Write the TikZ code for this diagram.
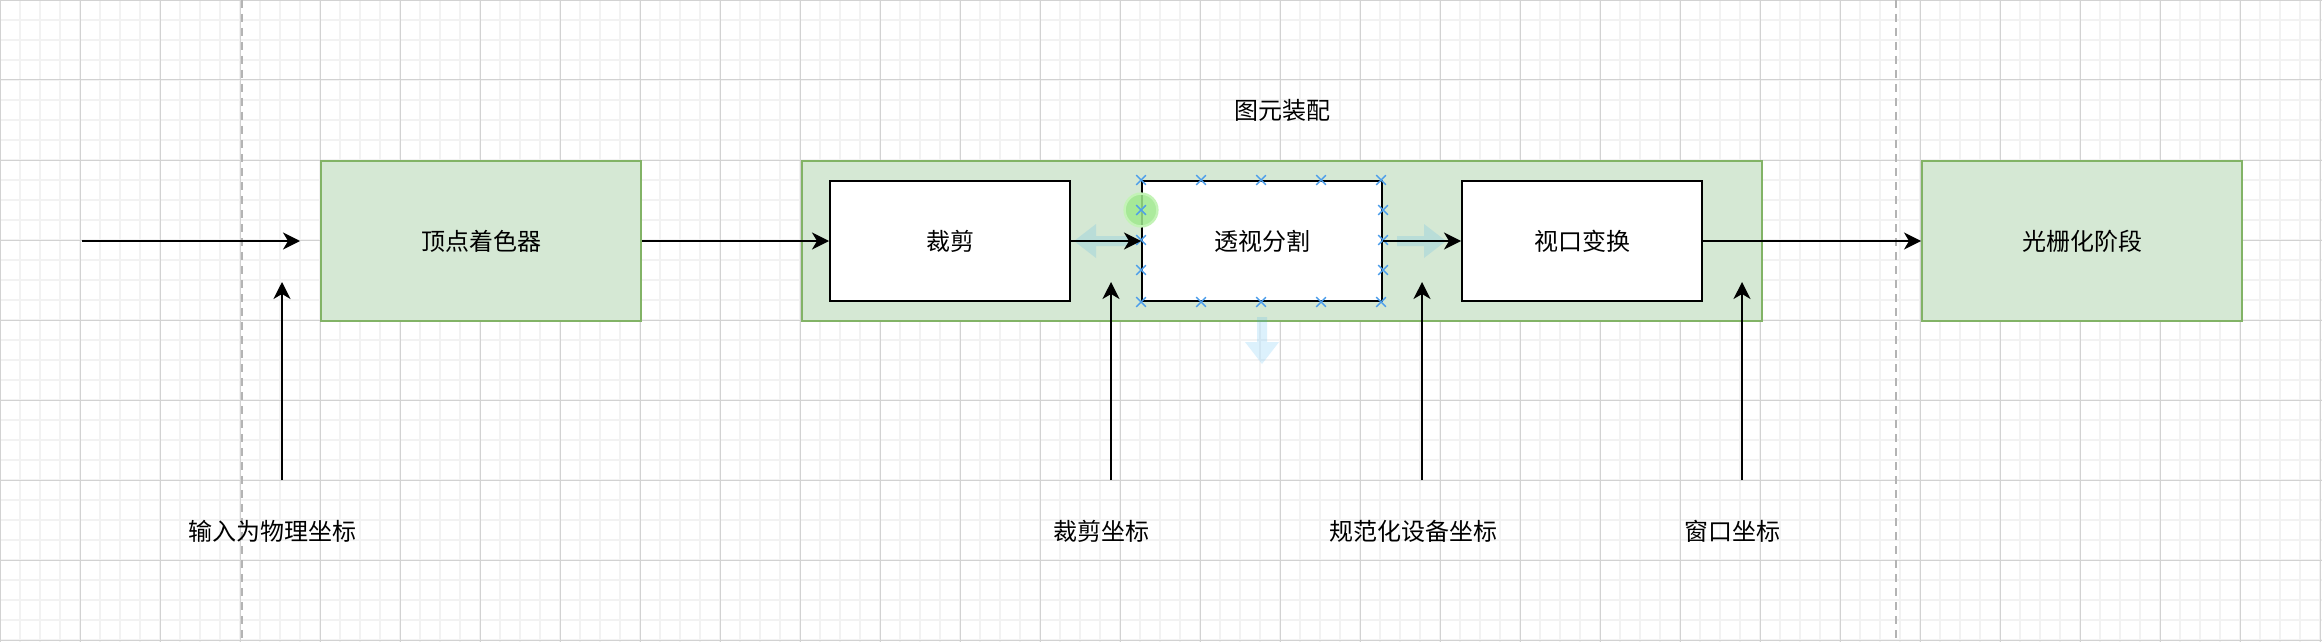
\documentclass[tikz,border=0pt]{standalone}
\usepackage{fontspec}
\setmainfont{Noto Sans CJK SC}
\usetikzlibrary{positioning,arrows.meta}

\definecolor{stagefill}{HTML}{D5E8D4}
\definecolor{stageline}{HTML}{82B366}
\definecolor{gridminor}{HTML}{F2F2F2}
\definecolor{gridmajor}{HTML}{D2D2D2}
\definecolor{pagebreak}{HTML}{B4B4B4}
\definecolor{selblue}{HTML}{4C9EEB}
\definecolor{hoverblue}{HTML}{29A8F2}
\definecolor{pinfill}{HTML}{9EE88C}
\definecolor{pinrim}{HTML}{C3F3B6}

\begin{document}
\begin{tikzpicture}[
  x=1pt, y=1pt,
  font=\fontsize{12pt}{14pt}\selectfont,
  stage/.style={draw=stageline, fill=stagefill, line width=1pt, inner sep=0pt,
                minimum width=160pt, minimum height=80pt},
  sub/.style={draw, fill=white, line width=1pt, inner sep=0pt,
              minimum width=120pt, minimum height=60pt},
  arr/.style={-{Stealth[length=8.5pt, width=8.5pt, inset=2.5pt]}, line width=1pt},
  lab/.style={inner sep=0pt},
  selx/.style={draw=selblue, line width=0.7pt},
  hover/.style={fill=hoverblue, fill opacity=0.16},
  brk/.style={pagebreak, line width=0.6pt, dash pattern=on 4pt off 3pt}
]
\useasboundingbox (0,0) rectangle (1161,-321);
% canvas grid and page breaks
\fill[white] (0,0) rectangle (1161,-321);
\draw[gridminor, line width=1pt, step=10pt] (0,-321) grid (1161,0);
\draw[gridmajor, line width=0.5pt, step=40pt] (0,-321) grid (1161,0);
\draw[brk] (121,0) -- (121,-321);
\draw[brk] (948,0) -- (948,-321);
% Stages
\node[stage] (vert) at (240.5,-120.5) {顶点着色器};
\node[stage, minimum width=480pt] (prim) at (641,-120.5) {};
\node[lab, above=19pt of prim] (primlab) {图元装配};
\node[sub] (clip) at (475,-120.5) {裁剪};
\node[sub, right=35pt of clip] (persp) {透视分割};
\node[sub, right=39pt of persp] (view) {视口变换};
\node[stage, right=79pt of prim] (rast) {光栅化阶段};
% Coordinate spaces
\node[lab] (inlab) at (136,-265.5) {输入为物理坐标};
\node[lab] (cliplab) at (550.5,-265.5) {裁剪坐标};
\node[lab] (ndclab) at (706.5,-265.5) {规范化设备坐标};
\node[lab] (winlab) at (866,-265.5) {窗口坐标};
% selection handles on the perspective box
\foreach \i in {0,...,4}{
  \draw[selx] ([xshift=30*\i]persp.north west) +(-2.4,-2.4) -- +(2.4,2.4) +(-2.4,2.4) -- +(2.4,-2.4);
  \draw[selx] ([xshift=30*\i]persp.south west) +(-2.4,-2.4) -- +(2.4,2.4) +(-2.4,2.4) -- +(2.4,-2.4);
}
\foreach \i in {1,2,3}{
  \draw[selx] ([yshift=-15*\i]persp.north west) +(-2.4,-2.4) -- +(2.4,2.4) +(-2.4,2.4) -- +(2.4,-2.4);
  \draw[selx] ([yshift=-15*\i]persp.north east) +(-2.4,-2.4) -- +(2.4,2.4) +(-2.4,2.4) -- +(2.4,-2.4);
}
\filldraw[fill=pinfill, draw=pinrim, line width=1.2pt, fill opacity=0.85] ([yshift=-15pt]persp.north west) circle (8.2);
\draw[selx] ([yshift=-15pt]persp.north west) +(-2.4,-2.4) -- +(2.4,2.4) +(-2.4,2.4) -- +(2.4,-2.4);
% hover arrows
\fill[hover] ([xshift=-33.5pt]persp.west) -- ++(11,8.5) -- ++(0,-6) -- ++(18,0) -- ++(0,-5) -- ++(-18,0) -- ++(0,-6) -- cycle;
\fill[hover] ([xshift=31.5pt]persp.east) -- ++(-11,8.5) -- ++(0,-6) -- ++(-13.5,0) -- ++(0,-5) -- ++(13.5,0) -- ++(0,-6) -- cycle;
\fill[hover] ([yshift=-31pt]persp.south) -- ++(8.5,11) -- ++(-6,0) -- ++(0,12.5) -- ++(-5,0) -- ++(0,-12.5) -- ++(-6,0) -- cycle;
% connectors
\coordinate (src) at (41,-120.5);
\coordinate (tips) at (0,-141);
\coordinate (inbase) at (141,-240);
\coordinate (clipbase) at (555.5,-240);
\coordinate (ndcbase) at (711,-240);
\coordinate (winbase) at (871,-240);
\draw[arr] (src) -- ([xshift=-10pt]vert.west);
\draw[arr] (vert) -- (clip);
\draw[arr] (clip) -- (persp);
\draw[arr] (persp) -- (view);
\draw[arr] (view) -- (rast);
\draw[arr] (inbase) -- (inbase |- tips);
\draw[arr] (clipbase) -- (clipbase |- tips);
\draw[arr] (ndcbase) -- (ndcbase |- tips);
\draw[arr] (winbase) -- (winbase |- tips);
\end{tikzpicture}
\end{document}
